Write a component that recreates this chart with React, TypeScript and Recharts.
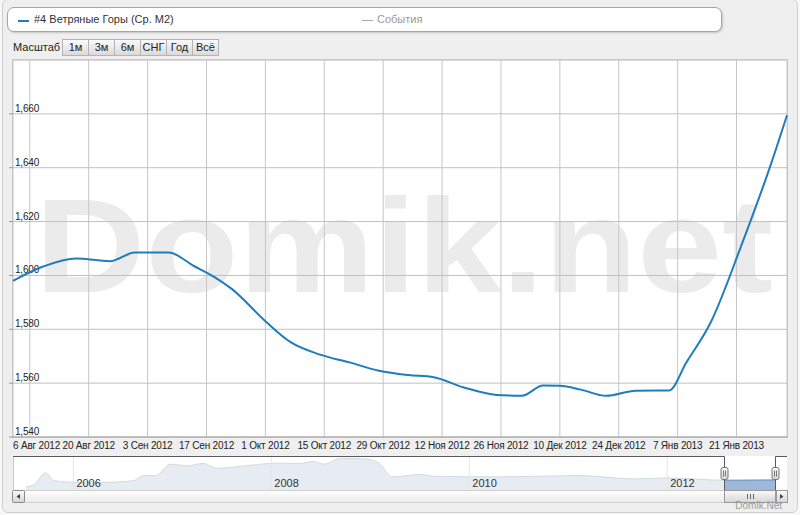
import { LineChart, Line, XAxis, YAxis, CartesianGrid, ReferenceLine, AreaChart, Area } from 'recharts';

const MONTHS_RU = ['Янв', 'Фев', 'Мар', 'Апр', 'Май', 'Июн', 'Июл', 'Авг', 'Сен', 'Окт', 'Ноя', 'Дек'];

// main series: #4 Ветряные Горы (Ср. М2)
const priceDates = [
  '2012-08-02', '2012-08-09', '2012-08-17', '2012-08-25', '2012-08-31', '2012-09-08',
  '2012-09-14', '2012-09-19', '2012-09-23', '2012-10-01', '2012-10-07', '2012-10-14',
  '2012-10-21', '2012-10-28', '2012-11-04', '2012-11-10', '2012-11-17', '2012-11-25',
  '2012-12-01', '2012-12-06', '2012-12-10', '2012-12-15', '2012-12-21', '2012-12-28',
  '2013-01-05', '2013-01-09', '2013-01-15', '2013-01-22', '2013-01-29', '2013-02-02',
];
const priceValues = [
  1598, 1603.2, 1606.3, 1605.3, 1608.5, 1608.5,
  1603.5, 1599.3, 1595, 1583, 1575.2, 1570.6,
  1567.7, 1564.6, 1563, 1562.2, 1558.5, 1555.6,
  1555.3, 1559.1, 1559, 1557.6, 1555.3, 1557.2,
  1557.3, 1567.5, 1583, 1610.5, 1640.5, 1659.5,
];

const xDomainDates = ['2012-08-02', '2013-02-02'];
const xTickDates = [
  '2012-08-06', '2012-08-20', '2012-09-03', '2012-09-17', '2012-10-01', '2012-10-15', '2012-10-29',
  '2012-11-12', '2012-11-26', '2012-12-10', '2012-12-24', '2013-01-07', '2013-01-21',
];
const yMinorTicks = Array.from({ length: 36 }, (_, i) => 1540 + i * 4);
const yMajorTicks = [1540, 1560, 1580, 1600, 1620, 1640, 1660, 1680];

// navigator (full history)
const navYears = [
  2005.52, 2005.6, 2005.72, 2005.8, 2005.94, 2006.27, 2006.61, 2006.71, 2006.83, 2006.98,
  2007.15, 2007.31, 2007.45, 2007.79, 2008.06, 2008.29, 2008.42, 2008.53, 2008.7, 2008.97,
  2009.1, 2009.22, 2009.51, 2009.64, 2010.31, 2011.12, 2011.66, 2012.0, 2012.58, 2013.09,
];
const navValues = [
  510, 850, 2840, 1580, 1310, 1240, 1530, 2380, 2380, 4250,
  3960, 4370, 3570, 4080, 4420, 4370, 4710, 4250, 5220, 5100,
  4250, 2160, 2550, 2260, 2160, 2380, 1820, 1990, 1600, 1650,
];
const navYearLabels = [2006, 2008, 2010, 2012];
const navDomain = [2005.39, 2013.21];
const selection = [2012.58, 2013.09];

const rangeButtons = ['1м', '3м', '6м', 'СНГ', 'Год', 'Всё'];

const ts = (d: string) => Date.parse(d);
const mainData = priceDates.map((d, i) => ({ t: ts(d), v: priceValues[i] }));
const navData = navYears.map((y, i) => ({
  year: y,
  v: navValues[i],
  sel: y >= selection[0] && y <= selection[1] ? navValues[i] : undefined,
}));

const FONT = '"Liberation Sans", Arial, Helvetica, sans-serif';

const fmtDate = (t: number) => {
  const d = new Date(t);
  return `${d.getUTCDate()} ${MONTHS_RU[d.getUTCMonth()]} ${d.getUTCFullYear()}`;
};

const XTick = (props: any) => {
  const { x, payload, index } = props;
  const first = index === 0;
  return (
    <text x={first ? 13 : x} y={449} textAnchor={first ? 'start' : 'middle'} fontSize={10} letterSpacing={-0.2} fill="#222" fontFamily={FONT}>
      {fmtDate(payload.value)}
    </text>
  );
};

const YLabel = (props: any) => {
  const { viewBox, v } = props;
  if (!viewBox) return null;
  const { x, y } = viewBox;
  return (
    <g>
      <line x1={x - 4} x2={x} y1={y} y2={y} stroke="#999" />
      <text x={x + 2} y={y - 2} fontSize={10} letterSpacing={-0.2} fill="#222" fontFamily={FONT}>
        {v.toLocaleString('en-US')}
      </text>
    </g>
  );
};

const btnStyle: React.CSSProperties = {
  height: 17,
  boxSizing: 'border-box',
  border: '1px solid #b4b4b4',
  background: 'linear-gradient(#fafafa, #dadada)',
  fontSize: 11,
  color: '#222',
  textAlign: 'center',
  lineHeight: '15px',
  marginLeft: -1,
};

export default function App() {
  return (
    <div style={{ position: 'absolute', left: 0, top: 0, width: 800, height: 515, background: '#f7f7f7', overflow: 'hidden', fontFamily: FONT }}>
      {/* outer frame */}
      <div style={{ position: 'absolute', left: 2, top: -1, width: 796, height: 514, boxSizing: 'border-box', border: '1px solid #cfcfcf', borderRadius: 6, background: '#efefef' }} />

      {/* legend */}
      <div style={{ position: 'absolute', left: 7, top: 7, width: 715, height: 25, boxSizing: 'border-box', border: '1px solid #a6a6a6', borderRadius: 7, background: '#fff', boxShadow: '1px 1px 2px rgba(0,0,0,0.18)' }}>
        <div style={{ position: 'absolute', left: 10, top: 12, width: 11, height: 2, background: '#1f7dbf' }} />
        <div style={{ position: 'absolute', left: 26, top: 5, fontSize: 11, color: '#333' }}>#4 Ветряные Горы (Ср. М2)</div>
        <div style={{ position: 'absolute', left: 354, top: 12, width: 11, height: 1, background: '#aaa' }} />
        <div style={{ position: 'absolute', left: 369, top: 5, fontSize: 11, color: '#999' }}>События</div>
      </div>

      {/* range selector */}
      <div style={{ position: 'absolute', left: 13, top: 41, fontSize: 11, color: '#222' }}>Масштаб</div>
      <div style={{ position: 'absolute', left: 63, top: 39, display: 'flex' }}>
        {rangeButtons.map((b) => (
          <div key={b} style={{ ...btnStyle, width: 27 }}>{b}</div>
        ))}
      </div>

      {/* plot background */}
      <div style={{ position: 'absolute', left: 12, top: 59, width: 776, height: 379, boxSizing: 'border-box', border: '1px solid #c4c4c4', background: '#fff' }} />

      {/* watermark */}
      <svg style={{ position: 'absolute', left: 0, top: 0 }} width={800} height={460}>
        <text x={35} y={292} fontSize={134} fontWeight="bold" fill="#ebebeb" textLength={738} lengthAdjust="spacingAndGlyphs" fontFamily={FONT}>
          Domik.net
        </text>
      </svg>

      {/* main chart */}
      <div style={{ position: 'absolute', left: 0, top: 0 }}>
        <LineChart width={800} height={460} data={mainData} margin={{ top: 60, right: 13, bottom: 0, left: 13 }}>
          <CartesianGrid vertical={false} stroke="#e3e3e3" />
          <CartesianGrid horizontal={false} stroke="#c6c6c6" />
          {yMajorTicks.map((v) => (
            <ReferenceLine key={v} y={v} stroke="#c0c0c0" label={v < 1680 ? <YLabel v={v} /> : undefined} />
          ))}
          <XAxis
            type="number"
            dataKey="t"
            domain={xDomainDates.map(ts)}
            ticks={xTickDates.map(ts)}
            interval={0}
            height={23}
            tickLine={false}
            axisLine={{ stroke: '#a8a8a8' }}
            tick={XTick}
          />
          <YAxis domain={[1540, 1680]} ticks={yMinorTicks} interval={0} width={0} axisLine={false} tickLine={false} tick={false} />
          <Line type="monotone" dataKey="v" stroke="#1f7dbf" strokeWidth={2} dot={false} isAnimationActive={false} />
        </LineChart>
      </div>

      {/* navigator */}
      <div style={{ position: 'absolute', left: 13, top: 456, width: 774, height: 34, background: '#fff', borderLeft: '1px solid #c8c8c8', boxSizing: 'border-box' }} />
      <div style={{ position: 'absolute', left: 13, top: 456 }}>
        <AreaChart width={774} height={34} data={navData} margin={{ top: 0, right: 0, bottom: 0, left: 0 }}>
          <XAxis type="number" dataKey="year" domain={navDomain} hide />
          <YAxis domain={[0, 5600]} hide />
          {navYearLabels.map((y) => (
            <ReferenceLine
              key={y}
              x={y}
              stroke="#e6e6e6"
              label={{ value: String(y), position: 'insideBottomLeft', fill: '#333', fontSize: 11, offset: 3, fontFamily: FONT }}
            />
          ))}
          <Area type="monotone" dataKey="v" stroke="#d3d9e3" fill="#e7ebf2" fillOpacity={1} isAnimationActive={false} />
          <Area type="monotone" dataKey="sel" stroke="#6d91c0" fill="#9db8da" fillOpacity={1} isAnimationActive={false} />
        </AreaChart>
      </div>

      {/* navigator outline, handles and scrollbar */}
      <svg style={{ position: 'absolute', left: 0, top: 450 }} width={800} height={65}>
        <defs>
          <linearGradient id="hg" x1="0" x2="0" y1="0" y2="1">
            <stop offset="0" stopColor="#fbfbfb" />
            <stop offset="1" stopColor="#d4d4d4" />
          </linearGradient>
          <linearGradient id="tg" x1="0" x2="0" y1="0" y2="1">
            <stop offset="0" stopColor="#fdfdfd" />
            <stop offset="1" stopColor="#ececec" />
          </linearGradient>
        </defs>
        <path d="M13,6.5 H724.5 V40.5 H775.5 V6.5 H787" fill="none" stroke="#5a5a5a" />
        <rect x={13.5} y={40.5} width={773} height={12} fill="url(#tg)" stroke="#cfcfcf" />
        <rect x={12.5} y={40.5} width={12} height={12} rx={1} fill="url(#hg)" stroke="#8a8a8a" />
        <path d="M20,44 L16.5,46.5 L20,49 Z" fill="#444" />
        <rect x={724.5} y={40.5} width={51} height={12} fill="url(#hg)" stroke="#9a9a9a" />
        <path d="M747.5,44 V49 M750.5,44 V49 M753.5,44 V49" stroke="#666" />
        <rect x={776.5} y={40.5} width={11} height={12} fill="url(#hg)" stroke="#9a9a9a" />
        <path d="M780,44 L783.5,46.5 L780,49 Z" fill="#444" />
        {[724.5, 775.5].map((hx) => (
          <g key={hx}>
            <rect x={hx - 3.5} y={17.5} width={7} height={12} rx={2} fill="url(#hg)" stroke="#777" />
            <path d={`M${hx - 1},20.5 V26.5 M${hx + 1},20.5 V26.5`} stroke="#777" />
          </g>
        ))}
        <text x={782} y={59} textAnchor="end" fontSize={10} fill="#9a9a9a" fontFamily={FONT}>
          Domik.Net
        </text>
      </svg>
    </div>
  );
}
